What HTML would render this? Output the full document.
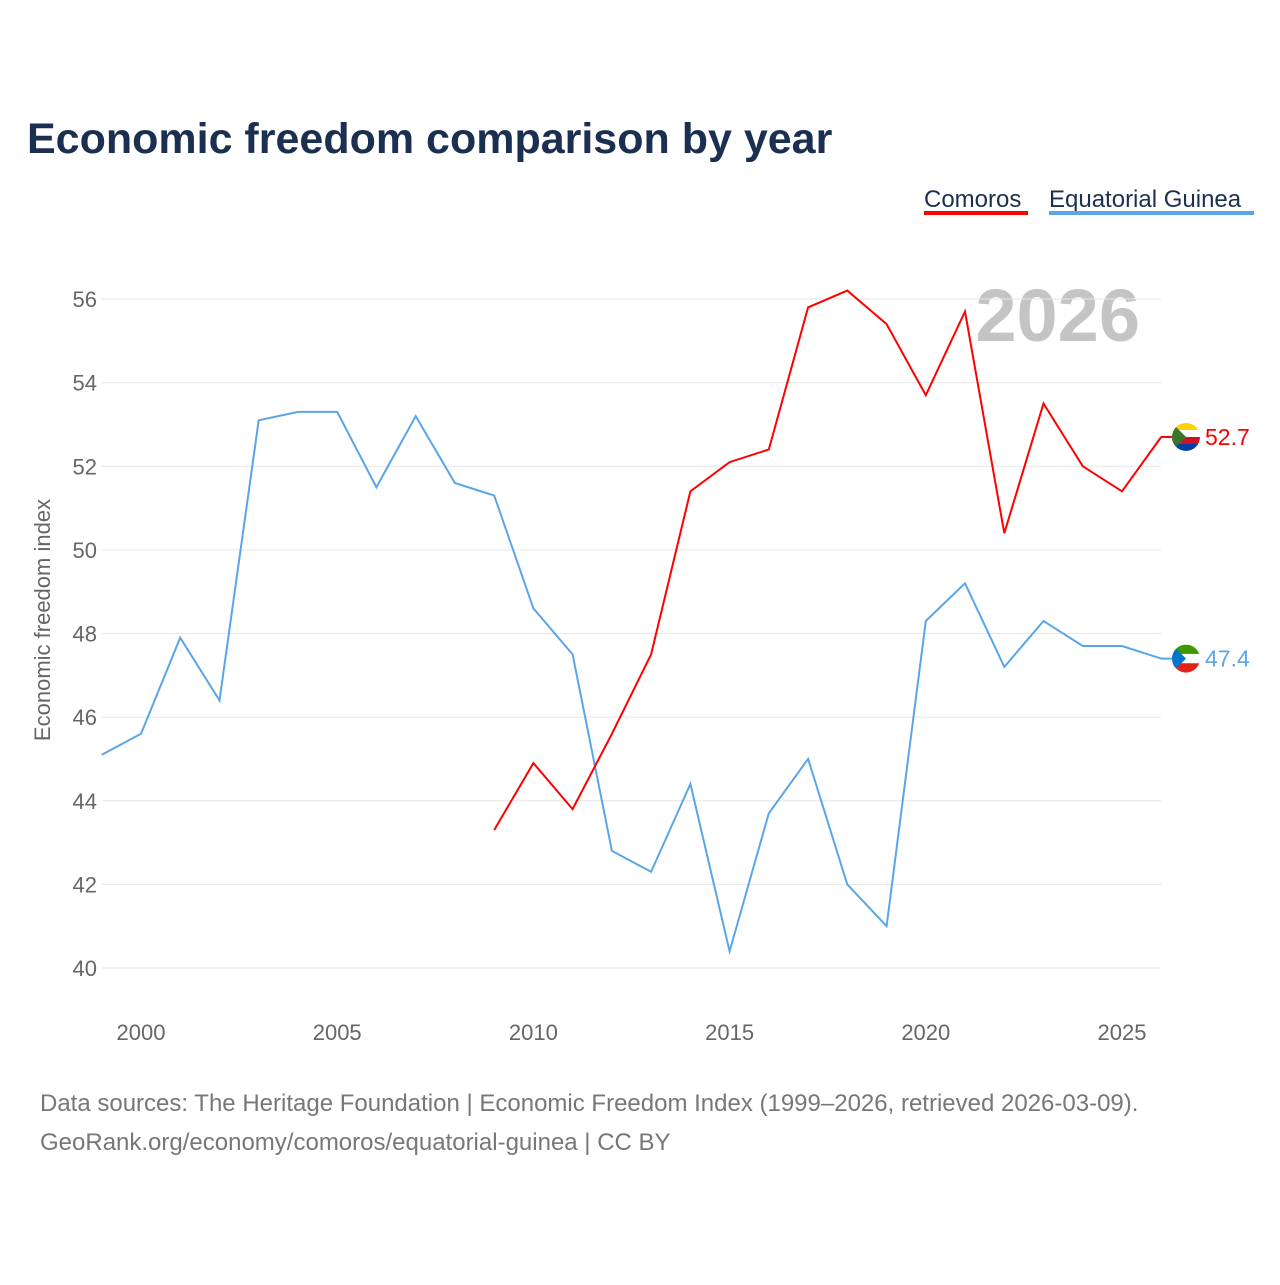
<!DOCTYPE html>
<html><head><meta charset="utf-8"><style>
body{margin:0;background:#fff;font-family:"Liberation Sans",sans-serif}
#wrap{position:relative;width:1280px;height:1280px}
</style></head><body><div id="wrap">
<svg id="chart" width="1280" height="1280">
<text x="27" y="153" font-size="43" font-weight="bold" fill="#1b2f50">Economic freedom comparison by year</text>
<g><text x="924" y="207" font-size="24" fill="#1b2f50">Comoros</text><rect x="924" y="211" width="104" height="4" fill="#ff0000"/></g>
<g><text x="1049" y="207" font-size="24" fill="#1b2f50">Equatorial Guinea</text><rect x="1049" y="211" width="205" height="4" fill="#5aa5e8"/></g>
<text x="1140" y="341" text-anchor="end" font-size="74" font-weight="bold" fill="#c4c4c4">2026</text>
<g id="grid"></g><g id="xt"></g><g id="lines"></g>
<text transform="translate(50,620) rotate(-90)" text-anchor="middle" font-size="22" fill="#666">Economic freedom index</text>
<text x="40" y="1111" font-size="24" fill="#777">Data sources: The Heritage Foundation | Economic Freedom Index (1999–2026, retrieved 2026-03-09).</text>
<text x="40" y="1150" font-size="24" fill="#777">GeoRank.org/economy/comoros/equatorial-guinea | CC BY</text>
</svg></div>
<script>
const years=[1999,2000,2001,2002,2003,2004,2005,2006,2007,2008,2009,2010,2011,2012,2013,2014,2015,2016,2017,2018,2019,2020,2021,2022,2023,2024,2025,2026];
const eqGuinea=[45.1,45.6,47.9,46.4,53.1,53.3,53.3,51.5,53.2,51.6,51.3,48.6,47.5,42.8,42.3,44.4,40.4,43.7,45.0,42.0,41.0,48.3,49.2,47.2,48.3,47.7,47.7,47.4];
const comoros=[null,null,null,null,null,null,null,null,null,null,43.3,44.9,43.8,45.6,47.5,51.4,52.1,52.4,55.8,56.2,55.4,53.7,55.7,50.4,53.5,52.0,51.4,52.7];
const yTicks=[40,42,44,46,48,50,52,54,56];
const xTicks=[2000,2005,2010,2015,2020,2025];
const NS="http://www.w3.org/2000/svg";
const X=v=>141+(v-2000)*39.24;
const Y=v=>968-(v-40)*41.8125;
function mk(t,a,p){const e=document.createElementNS(NS,t);for(const k in a)e.setAttribute(k,a[k]);p.appendChild(e);return e;}
const grid=document.getElementById('grid'),xt=document.getElementById('xt'),lines=document.getElementById('lines');
yTicks.forEach(v=>{
 const l=mk('line',{x1:102,x2:1161,y1:Y(v),y2:Y(v),stroke:'#e6e6e6','stroke-width':1},grid);
 
 
 const t=mk('text',{x:97,y:Y(v)+8,'text-anchor':'end','font-size':22,fill:'#666'},grid);t.textContent=v;
 
 
});
xTicks.forEach(v=>{
 const t=mk('text',{x:X(v),y:1040,'text-anchor':'middle','font-size':22,fill:'#666'},xt);t.textContent=v;
 
 
});
function series(vals,color,name,stripes,tri){
 let d='';vals.forEach((v,i)=>{if(v==null)return;d+=(d?'L':'M')+X(years[i]).toFixed(1)+','+Y(v).toFixed(1);});
 const p=mk('path',{d:d,fill:'none',stroke:color,'stroke-width':2},lines);
 
 
 const last=vals[vals.length-1],cy=Y(last);
 mk('line',{x1:1161,x2:1172,y1:cy,y2:cy,stroke:color,'stroke-width':2},lines);
 const g=mk('g',{},lines);
 
 
 const cp=mk('clipPath',{id:'cp-'+name},g);mk('circle',{cx:1186,cy:cy,r:14},cp);
 const gg=mk('g',{'clip-path':'url(#cp-'+name+')'},g);
 const h=28/stripes.length;
 stripes.forEach((c,i)=>mk('rect',{x:1172,y:cy-14+i*h,width:28,height:h+0.5,fill:c},gg));
 mk('path',{d:`M1172,${cy-14}L1186,${cy}L1172,${cy+14}Z`,fill:tri},gg);
 const t=mk('text',{x:1205,y:cy+8,'font-size':23,fill:color},lines);t.textContent=last.toFixed(1);
 
 
}
series(eqGuinea,'#5aa5e8','equatorial-guinea',['#3e9a00','#ffffff','#e32118'],'#0073ce');
series(comoros,'#ff0000','comoros',['#ffd100','#ffffff','#ce1126','#003da5'],'#3a7728');
</script></body></html>
